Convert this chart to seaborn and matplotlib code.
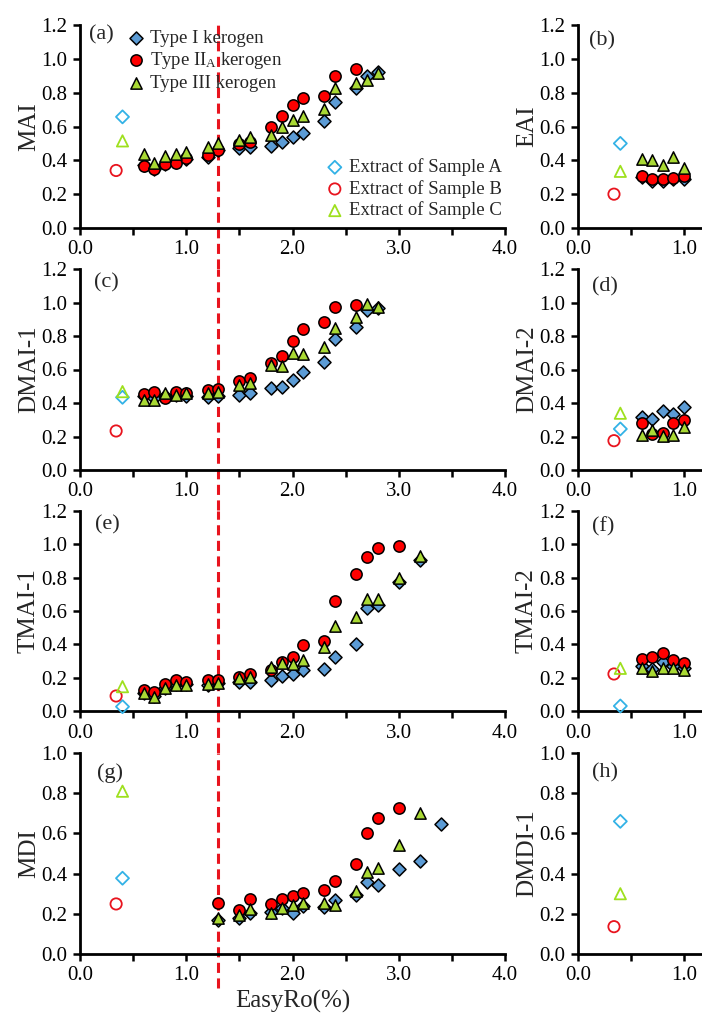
import matplotlib
matplotlib.use("Agg")
import matplotlib.pyplot as plt
import seaborn as sns
import pandas as pd
import numpy as np

# EasyRo values of the heated samples
ro = [0.6, 0.7, 0.8, 0.9, 1.0, 1.2, 1.3, 1.5, 1.6, 1.8, 1.9, 2.0, 2.1, 2.3, 2.4, 2.6, 2.7, 2.8, 3.0, 3.2, 3.4]
ro_low = [0.6, 0.7, 0.8, 0.9, 1.0]
ro_mdi = ro[6:]
extract_ro = [0.40, 0.34, 0.40]  # sample A, B, C

# (a) MAI
mai_I = [0.37, 0.35, 0.38, 0.39, 0.41, 0.42, 0.46, 0.47, 0.48, 0.485, 0.51, 0.54, 0.56, 0.63, 0.745, 0.83, 0.90, 0.92]
mai_IIA = [0.367, 0.347, 0.38, 0.385, 0.415, 0.43, 0.463, 0.495, 0.51, 0.60, 0.665, 0.73, 0.77, 0.78, 0.90, 0.94]
mai_III = [0.436, 0.387, 0.426, 0.436, 0.45, 0.48, 0.50, 0.52, 0.54, 0.55, 0.60, 0.64, 0.665, 0.705, 0.83, 0.857, 0.875, 0.918]
mai_ext = [0.657, 0.34, 0.515]

# (b) EAI
eai_I = [0.30, 0.28, 0.28, 0.29, 0.29]
eai_IIA = [0.31, 0.29, 0.29, 0.295, 0.31]
eai_III = [0.405, 0.40, 0.37, 0.42, 0.355]
eai_ext = [0.50, 0.20, 0.335]

# (c) DMAI-1
dmai1_I = [0.44, 0.43, 0.44, 0.45, 0.44, 0.434, 0.44, 0.448, 0.458, 0.488, 0.498, 0.538, 0.588, 0.647, 0.783, 0.854, 0.955, 0.97]
dmai1_IIA = [0.454, 0.468, 0.43, 0.468, 0.462, 0.478, 0.484, 0.534, 0.548, 0.637, 0.68, 0.773, 0.843, 0.886, 0.976, 0.985]
dmai1_III = [0.418, 0.418, 0.458, 0.448, 0.458, 0.462, 0.468, 0.508, 0.522, 0.627, 0.62, 0.70, 0.693, 0.737, 0.847, 0.915, 0.99, 0.973]
dmai1_ext = [0.434, 0.233, 0.468]

# (d) DMAI-2
dmai2_I = [0.319, 0.305, 0.355, 0.335, 0.375]
dmai2_IIA = [0.283, 0.215, 0.219, 0.283, 0.30]
dmai2_III = [0.209, 0.239, 0.203, 0.209, 0.255]
dmai2_ext = [0.245, 0.175, 0.339]

# (e) TMAI-1
tmai1_I = [0.11, 0.09, 0.14, 0.16, 0.16, 0.156, 0.17, 0.176, 0.176, 0.186, 0.21, 0.22, 0.246, 0.25, 0.322, 0.40, 0.616, 0.636, 0.776, 0.906]
tmai1_IIA = [0.126, 0.116, 0.162, 0.186, 0.176, 0.186, 0.186, 0.202, 0.222, 0.246, 0.296, 0.326, 0.396, 0.422, 0.662, 0.82, 0.922, 0.98, 0.992]
tmai1_III = [0.106, 0.086, 0.136, 0.156, 0.156, 0.162, 0.17, 0.196, 0.206, 0.266, 0.29, 0.282, 0.306, 0.382, 0.512, 0.566, 0.67, 0.67, 0.796, 0.93]
tmai1_ext = [0.026, 0.09, 0.146]

# (f) TMAI-2
tmai2_I = [0.27, 0.25, 0.296, 0.27, 0.26]
tmai2_IIA = [0.312, 0.326, 0.346, 0.306, 0.286]
tmai2_III = [0.256, 0.242, 0.256, 0.256, 0.246]
tmai2_ext = [0.03, 0.222, 0.256]

# (g) MDI
mdi_I = [0.17, 0.178, 0.206, 0.21, 0.23, 0.206, 0.24, 0.236, 0.269, 0.294, 0.36, 0.343, 0.421, 0.464, 0.645]
mdi_IIA = [0.256, 0.219, 0.274, 0.249, 0.272, 0.29, 0.302, 0.319, 0.365, 0.449, 0.60, 0.675, 0.725]
mdi_III = [0.178, 0.194, 0.224, 0.203, 0.228, 0.244, 0.254, 0.256, 0.244, 0.314, 0.41, 0.43, 0.542, 0.70]
mdi_ext = [0.377, 0.249, 0.81]

# (h) DMDI-1
dmdi1_ext = [0.66, 0.136, 0.30]

kerogen_labels = ["Type I kerogen", "Type IIA kerogen", "Type III kerogen"]
extract_labels = ["Extract of Sample A", "Extract of Sample B", "Extract of Sample C"]

sns.set_style("ticks")
plt.rcParams["font.family"] = ["Liberation Serif", "DejaVu Serif"]
plt.rcParams["mathtext.fontset"] = "custom"
plt.rcParams["mathtext.rm"] = "Liberation Serif"

blue = "#5B9BD5"
red = "#FF0000"
green = "#A9D934"
kerogen_styles = [dict(marker="D", color=blue, s=44),
                  dict(marker="o", color=red, s=66),
                  dict(marker="^", color=green, s=66)]
extract_styles = [dict(marker="D", color="#33B2E6", s=44),
                  dict(marker="o", color="#E8141E", s=66),
                  dict(marker="^", color="#9EE01E", s=66)]


def draw(ax, x, y, style, label, open_marker=False):
    df = pd.DataFrame({"x": x, "y": y})
    sns.scatterplot(data=df, x="x", y="y", ax=ax, marker=style["marker"], s=style["s"],
                    color=style["color"], edgecolor="black", linewidth=1.1, label=label, zorder=3)
    coll = ax.collections[-1]
    coll.set_clip_on(False)
    if open_marker:
        coll.set_facecolor("none")
        coll.set_edgecolor(style["color"])
        coll.set_linewidth(1.3)


def setup(ax, xmax, ymax, ylabel, letter, letter_xy, right=False):
    ax.set_ylim(0, ymax)
    yt = np.arange(0, ymax + 0.01, 0.2)
    ax.set_yticks(yt)
    ax.set_yticklabels([f"{v:.1f}" for v in yt])
    ax.set_xlim(0, xmax)
    if right:
        xt = [0.0, 0.5, 1.0]
    else:
        xt = list(np.arange(0, 4.01, 0.5))
    ax.set_xticks(xt)
    ax.set_xticklabels([f"{v:.1f}" if abs(v - round(v)) < 1e-6 else "" for v in xt])
    ax.set_ylabel(ylabel, fontsize=18, labelpad=1)
    ax.set_xlabel("")
    for s in ["top", "right"]:
        ax.spines[s].set_visible(False)
    for s in ["left", "bottom"]:
        ax.spines[s].set_linewidth(2.0)
        ax.spines[s].set_color("black")
    ax.tick_params(direction="out", length=5, width=1.8, labelsize=15, pad=4, colors="black")
    ax.text(letter_xy[0], letter_xy[1], letter, transform=ax.transAxes, fontsize=16,
            ha="left", va="center")


fig = plt.figure(figsize=(7.02, 10.15), dpi=100)
W, H = 702.0, 1015.0
rows = [(25, 228), (269, 470), (511, 711), (753, 954)]
left_axes, right_axes = [], []
for top, bot in rows:
    left_axes.append(fig.add_axes([80 / W, 1 - bot / H, 425 / W, (bot - top) / H]))
    right_axes.append(fig.add_axes([578 / W, 1 - bot / H, 127 / W, (bot - top) / H]))

left_data = [(mai_I, mai_IIA, mai_III, mai_ext), (dmai1_I, dmai1_IIA, dmai1_III, dmai1_ext),
             (tmai1_I, tmai1_IIA, tmai1_III, tmai1_ext), (mdi_I, mdi_IIA, mdi_III, mdi_ext)]
right_data = [(eai_I, eai_IIA, eai_III, eai_ext), (dmai2_I, dmai2_IIA, dmai2_III, dmai2_ext),
              (tmai2_I, tmai2_IIA, tmai2_III, tmai2_ext), (None, None, None, dmdi1_ext)]
left_names = ["MAI", "DMAI-1", "TMAI-1", "MDI"]
right_names = ["EAI", "DMAI-2", "TMAI-2", "DMDI-1"]
left_letters = [("(a)", (0.022, 0.95)), ("(c)", (0.033, 0.93)), ("(e)", (0.035, 0.93)), ("(g)", (0.04, 0.90))]
right_letters = [("(b)", (0.09, 0.92)), ("(d)", (0.11, 0.91)), ("(f)", (0.11, 0.92)), ("(h)", (0.11, 0.90))]

for i, ax in enumerate(left_axes):
    series = left_data[i]
    for k in range(3):
        xs = ro_mdi[:len(series[k])] if i == 3 else ro[:len(series[k])]
        draw(ax, xs, series[k], kerogen_styles[k], kerogen_labels[k])
    for k in range(3):
        draw(ax, [extract_ro[k]], [series[3][k]], extract_styles[k], extract_labels[k], open_marker=True)
    ymax = 1.0 if i == 3 else 1.2
    setup(ax, 4.0, ymax, left_names[i], *left_letters[i])
    lo = {0: -0.20, 1: -0.20, 2: -0.21, 3: -0.17}[i]
    hi = 1.025 if i == 0 else 1.0
    ax.axvline(1.3, ymin=lo, ymax=hi, color="#E8141E", lw=2.2, dashes=(3.3, 1.8), clip_on=False, zorder=2)

for i, ax in enumerate(right_axes):
    series = right_data[i]
    for k in range(3):
        if series[k] is not None:
            draw(ax, ro_low, series[k], kerogen_styles[k], kerogen_labels[k])
    for k in range(3):
        draw(ax, [extract_ro[k]], [series[3][k]], extract_styles[k], extract_labels[k], open_marker=True)
    ymax = 1.0 if i == 3 else 1.2
    setup(ax, 1.2, ymax, right_names[i], *right_letters[i], right=True)
    if ax.get_legend() is not None:
        ax.get_legend().remove()

left_axes[3].set_xlabel("EasyRo(%)", fontsize=18, labelpad=3)

# legends in panel (a)
ax = left_axes[0]
handles, labels = ax.get_legend_handles_labels()
if ax.get_legend() is not None:
    ax.get_legend().remove()
leg1 = ax.legend(handles[:3], ["Type I kerogen", r"Type II$\mathregular{_A}$ kerogen", "Type III kerogen"],
                 loc="upper left", bbox_to_anchor=(0.08, 1.015), frameon=False, fontsize=13.5,
                 handletextpad=0.0, labelspacing=0.2, borderaxespad=0.0, handlelength=1.5)
ax.add_artist(leg1)
ax.legend(handles[3:], labels[3:], loc="lower right", bbox_to_anchor=(1.01, 0.005), frameon=False,
          fontsize=13.5, handletextpad=0.0, labelspacing=0.2, borderaxespad=0.0, handlelength=1.5)
for a in left_axes[1:]:
    if a.get_legend() is not None:
        a.get_legend().remove()

fig.savefig("out.png", dpi=100)
